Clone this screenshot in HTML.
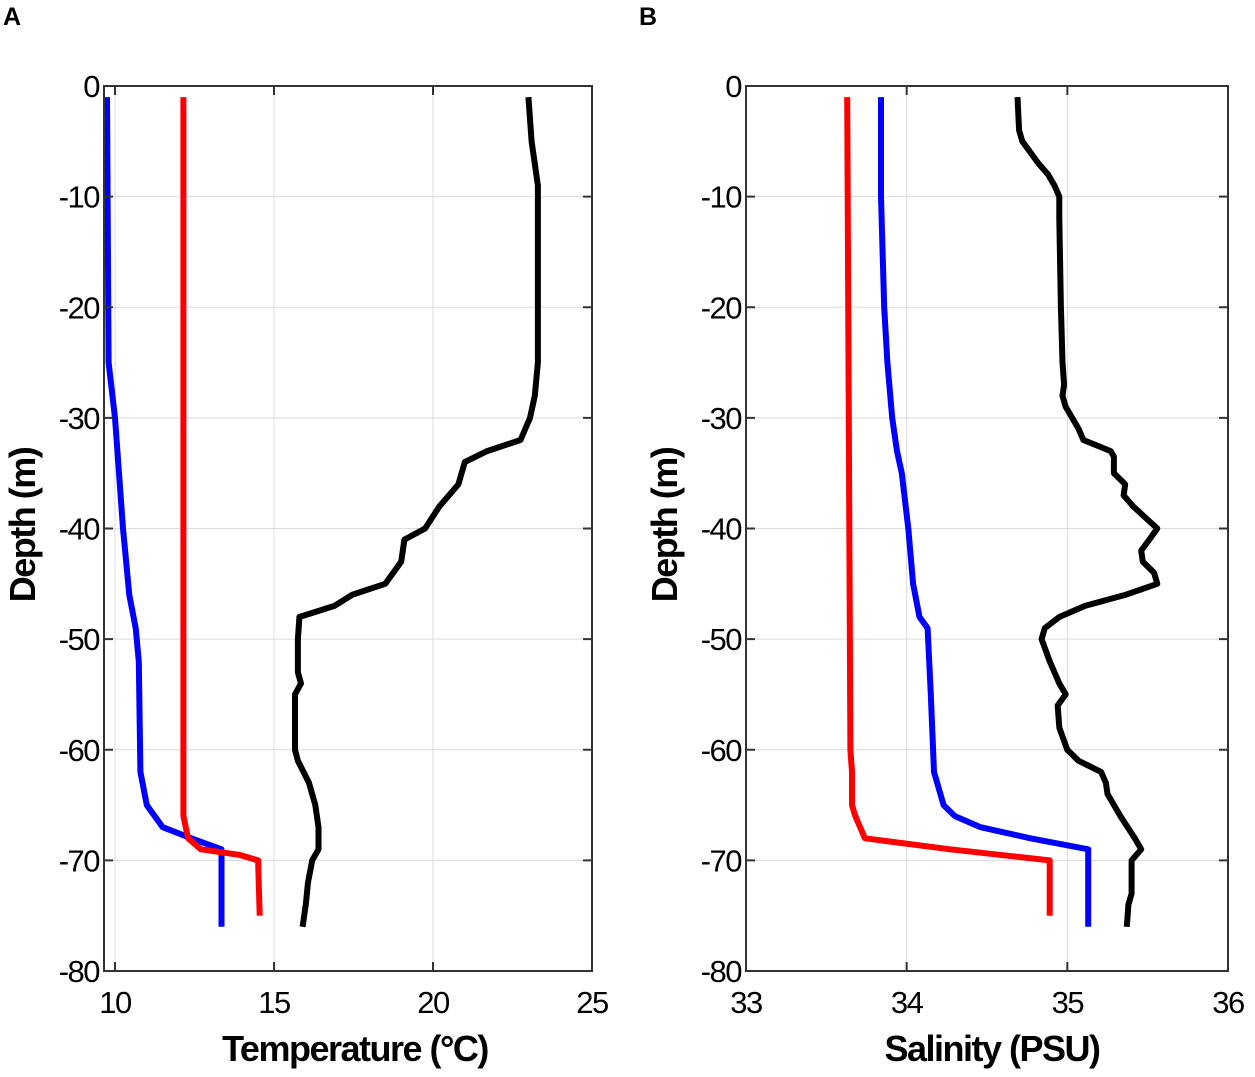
<!DOCTYPE html>
<html><head><meta charset="utf-8">
<style>
html,body{margin:0;padding:0;background:#fff;}
svg{display:block;font-family:"Liberation Sans",Arial,sans-serif;}
</style></head>
<body>
<svg id="chart" width="1255" height="1077" viewBox="0 0 1255 1077" xmlns="http://www.w3.org/2000/svg">
<text x="3" y="25" font-size="25" font-weight="bold">A</text>
<text x="639" y="25" font-size="25" font-weight="bold">B</text>
</svg>
<script>
// Panel A: Temperature
const tBlueD = [-1,-25,-30,-40,-46,-49,-52,-62,-65,-67,-68,-69,-76];
const tBlueV = [9.75,9.8,10.0,10.25,10.45,10.65,10.75,10.8,11.0,11.5,12.4,13.35,13.35];
const tRedD = [-1,-66,-68,-69,-69.5,-70,-75];
const tRedV = [12.15,12.15,12.3,12.7,13.9,14.5,14.55];
const tBlackD = [-1,-5,-9,-25,-28,-30,-32,-33,-34,-36,-38,-40,-41,-43,-45,-46,-47,-48,-50,-53,-54,-55,-60,-61,-63,-65,-67,-69,-70,-72,-74,-76];
const tBlackV = [23.0,23.1,23.3,23.3,23.2,23.05,22.75,21.7,21.0,20.8,20.2,19.75,19.1,19.0,18.5,17.45,16.9,15.8,15.75,15.75,15.85,15.66,15.66,15.75,16.1,16.3,16.4,16.4,16.2,16.07,16.0,15.9];
const tTicks = [10,15,20,25];
// Panel B: Salinity
const sRedD = [-1,-60,-62,-65,-66,-68,-69,-70,-75];
const sRedV = [33.63,33.65,33.66,33.66,33.68,33.74,34.27,34.89,34.89];
const sBlueD = [-1,-10,-20,-25,-30,-33,-35,-40,-45,-48,-49,-55,-62,-65,-66,-67,-68,-69,-76];
const sBlueV = [33.84,33.84,33.86,33.88,33.91,33.94,33.97,34.01,34.04,34.08,34.13,34.15,34.17,34.23,34.3,34.46,34.77,35.13,35.13];
const sBlackD = [-1,-4,-5,-7,-8,-9,-10,-12,-20,-25,-27,-28,-29,-31,-32,-33,-33.5,-35,-36,-37,-38,-40,-41,-42,-43,-44,-45,-46,-47,-48,-49,-50,-52,-54,-55,-56,-58,-60,-61,-62,-63,-64,-66,-68,-69,-70,-73,-74,-76];
const sBlackV = [34.69,34.7,34.72,34.82,34.88,34.92,34.95,34.95,34.96,34.97,34.98,34.97,34.99,35.07,35.1,35.27,35.29,35.29,35.36,35.35,35.41,35.56,35.51,35.46,35.47,35.54,35.56,35.36,35.11,34.95,34.86,34.84,34.89,34.95,34.99,34.94,34.95,35.0,35.07,35.21,35.24,35.25,35.33,35.42,35.46,35.4,35.4,35.38,35.37];
const sTicks = [33,34,35,36];
const depthTicks = [0,-10,-20,-30,-40,-50,-60,-70,-80];

const NS = "http://www.w3.org/2000/svg";
const svg = document.getElementById('chart');
function mk(tag, attrs, parent){const e=document.createElementNS(NS,tag);for(const k in attrs)e.setAttribute(k,attrs[k]);(parent||svg).appendChild(e);return e;}
const yTop=86, yBot=971;
const yS = d => yTop + (0 - d)/80*(yBot-yTop);

function panel(p){
  const g = mk('g',{});
  
  
  const xS = v => p.x0 + (v - p.v0)/(p.v1 - p.v0)*(p.x1 - p.x0);
  p.ticks.forEach(t=>{ const gl=mk('line',{x1:xS(t),x2:xS(t),y1:yTop,y2:yBot,stroke:'#dcdcdc','stroke-width':1},g);
     });
  depthTicks.forEach(t=>{ const gl=mk('line',{x1:p.left,x2:p.right,y1:yS(t),y2:yS(t),stroke:'#dcdcdc','stroke-width':1},g);
     });
  p.series.forEach(s=>{
    const pts = s.d.map((d,i)=>xS(s.v[i]).toFixed(1)+','+yS(d).toFixed(1)).join(' ');
    const pl = mk('polyline',{points:pts,fill:'none',stroke:s.c,'stroke-width':6,'stroke-linejoin':'round'},g);
    
    
  });
  const box = mk('rect',{x:p.left,y:yTop,width:p.right-p.left,height:yBot-yTop,fill:'none',stroke:'#333','stroke-width':2},g);
   
  p.ticks.forEach(t=>{
    mk('line',{x1:xS(t),x2:xS(t),y1:yBot,y2:yBot-9,stroke:'#333','stroke-width':2},g);
    mk('line',{x1:xS(t),x2:xS(t),y1:yTop,y2:yTop+9,stroke:'#333','stroke-width':2},g);
    const tx = mk('text',{x:xS(t),y:1013,'font-size':31,'text-anchor':'middle','letter-spacing':'-1.5'},g);
    tx.textContent=t;
     
  });
  depthTicks.forEach(t=>{
    mk('line',{x1:p.left,x2:p.left+9,y1:yS(t),y2:yS(t),stroke:'#333','stroke-width':2},g);
    mk('line',{x1:p.right,x2:p.right-9,y1:yS(t),y2:yS(t),stroke:'#333','stroke-width':2},g);
    const tx = mk('text',{x:p.left-5,y:yS(t)+11,'font-size':31,'text-anchor':'end','letter-spacing':'-1.5'},g);
    tx.textContent=t;
     
  });
  const xt = mk('text',{x:p.xtc,y:1061,'font-size':36,'font-weight':'bold','text-anchor':'middle','letter-spacing':'-1.5'},g);
  xt.textContent=p.xtitle;
   
  const yt = mk('text',{x:0,y:0,'font-size':36,'font-weight':'bold','text-anchor':'middle','letter-spacing':'-1.5',transform:`translate(${p.left-69},${525}) rotate(-90)`},g);
  yt.textContent='Depth (m)';
   
}

panel({name:'temperature-panel',left:104,right:592,x0:115,x1:592,v0:10,v1:25,ticks:tTicks,xtitle:'Temperature (°C)',xtc:355,
  series:[{d:tBlueD,v:tBlueV,c:'#0000ff',n:'temperature-blue-line'},{d:tRedD,v:tRedV,c:'#ff0000',n:'temperature-red-line'},{d:tBlackD,v:tBlackV,c:'#000',n:'temperature-black-line'}]});
panel({name:'salinity-panel',left:746,right:1228,x0:746,x1:1228,v0:33,v1:36,ticks:sTicks,xtitle:'Salinity (PSU)',xtc:992,
  series:[{d:sRedD,v:sRedV,c:'#ff0000',n:'salinity-red-line'},{d:sBlueD,v:sBlueV,c:'#0000ff',n:'salinity-blue-line'},{d:sBlackD,v:sBlackV,c:'#000',n:'salinity-black-line'}]});
</script>
</body></html>
